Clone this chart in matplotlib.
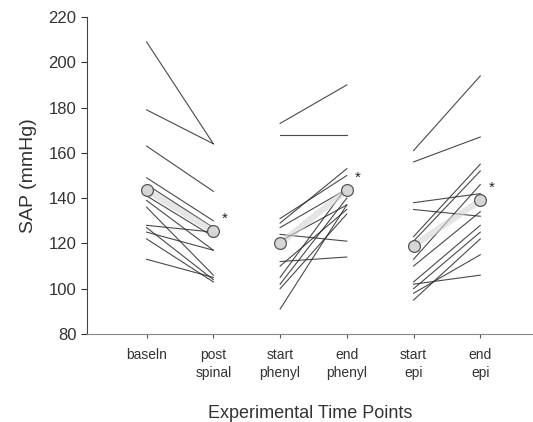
import matplotlib
matplotlib.use("Agg")
import matplotlib.pyplot as plt

plt.rcParams['font.family'] = ['Liberation Sans', 'DejaVu Sans']

# categorias do eixo x
labels = ['baseln', 'post\nspinal', 'start\nphenyl', 'end\nphenyl', 'start\nepi', 'end\nepi']

# baseline -> post spinal (um sujeito por linha)
baseln = [209, 179, 163, 149, 146, 141, 139, 136, 128, 127, 125, 122, 113]
post_spinal = [164, 164, 143, 130, 127, 123, 117, 106, 125, 104, 117, 103, 105]

# start phenyl -> end phenyl
start_phenyl = [173, 168, 131, 129, 127, 124, 121, 112, 110, 105, 102, 100, 91]
end_phenyl = [190, 168, 150, 153, 144, 121, 137, 114, 135, 145, 140, 133, 137]

# start epi -> end epi
start_epi = [161, 156, 138, 135, 123, 121, 113, 110, 103, 100, 98, 95, 102]
end_epi = [194, 167, 142, 132, 155, 152, 146, 134, 128, 125, 115, 122, 106]

# medias (circulos)
means = [143.5, 125.5, 120, 143.5, 119, 139]

fig = plt.figure(figsize=(5.33, 4.22), dpi=100)
ax = fig.add_axes([0.163, 0.2085, 0.837, 0.7512])

pairs = [(1, baseln, post_spinal), (3, start_phenyl, end_phenyl), (5, start_epi, end_epi)]
for x0, a, b in pairs:
    for v0, v1 in zip(a, b):
        ax.plot([x0, x0 + 1], [v0, v1], color='#2a2a2a', lw=0.8, alpha=0.85)
    i = x0 - 1
    ax.plot([x0, x0 + 1], [means[i], means[i + 1]], color='#d4d4d4', lw=4.5,
            alpha=0.6, solid_capstyle='round', zorder=3)
    ax.plot([x0, x0 + 1], [means[i], means[i + 1]], 'o', ms=8.5, mfc='#d6d6d6',
            mec='#555555', mew=0.9, zorder=4)
    ax.text(x0 + 1.12, means[i + 1] + 5.5, '*', fontsize=11, color='#222222',
            ha='left', va='center')

ax.set_xlim(0.105, 6.79)
ax.set_ylim(80, 220)
ax.set_xticks(range(1, 7))
ax.set_xticklabels(labels, fontsize=10, color='#333333', linespacing=1.4)
ax.set_yticks(range(80, 221, 20))
ax.tick_params(axis='y', labelsize=12, colors='#333333', length=4, width=0.8)
ax.tick_params(axis='x', length=3, width=0.8, colors='#555555', pad=7)
for lab in ax.get_xticklabels():
    lab.set_color('#333333')

ax.spines['top'].set_visible(False)
ax.spines['right'].set_visible(False)
ax.spines['left'].set_color('#444444')
ax.spines['bottom'].set_color('#888888')

ax.set_ylabel('SAP (mmHg)', fontsize=14, color='#333333', labelpad=8)
ax.set_xlabel('Experimental Time Points', fontsize=13, color='#333333', labelpad=18)

plt.savefig('out.png', dpi=100)
